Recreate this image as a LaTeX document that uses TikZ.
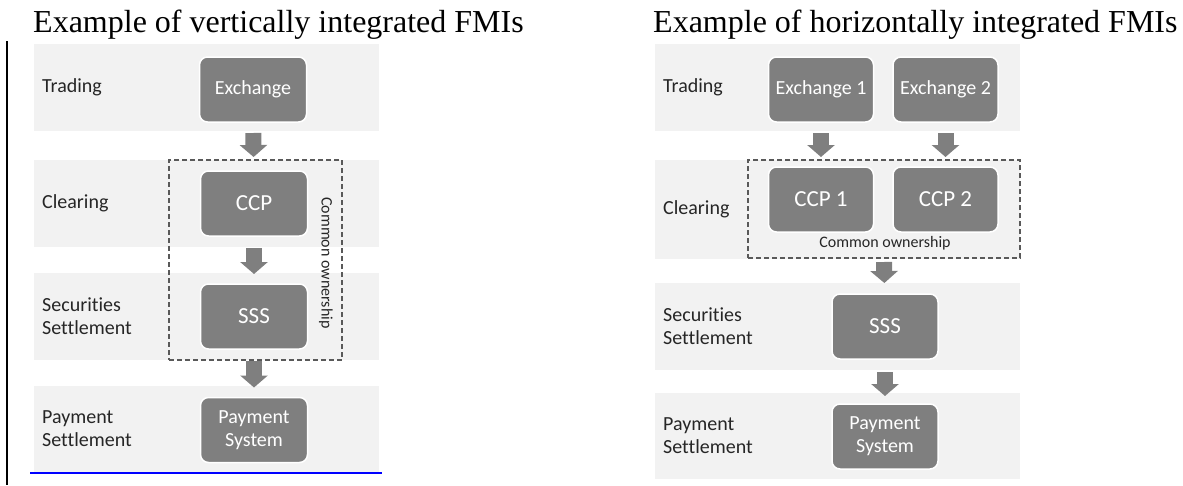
\documentclass[tikz,border=0pt]{standalone}
\usepackage{fontspec}
\setmainfont{Liberation Serif}
\newfontfamily\calibri[Ligatures=NoCommon]{Carlito}
\usetikzlibrary{positioning,arrows.meta}

\definecolor{bandgray}{HTML}{F2F2F2}
\definecolor{boxgray}{HTML}{7F7F7F}
\definecolor{dashgray}{HTML}{595959}
\definecolor{labelgray}{HTML}{262626}

\tikzset{
  title/.style={font=\fontsize{32}{36}\selectfont, anchor=base west, inner sep=0pt},
  band/.style={fill=bandgray, minimum width=#1, minimum height=87pt, inner sep=0pt, outer sep=0pt},
  stage/.style={font=\calibri\fontsize{20}{23}\selectfont, text=labelgray, align=left, inner sep=0pt},
  fmi/.style={rounded corners=8pt, fill=boxgray, draw=white, line width=1.5pt, text=white,
    font=\calibri\fontsize{20}{23}\selectfont, align=center, minimum width=107pt,
    minimum height=65pt, inner sep=0pt, outer sep=0pt},
  bigtext/.style={font=\calibri\fontsize{23}{26}\selectfont},
  owner/.style={draw=dashgray, line width=1.5pt, dash pattern=on 5pt off 3pt, inner sep=0pt, outer sep=0pt},
  ownlabel/.style={font=\calibri\fontsize{16}{18}\selectfont, text=labelgray, inner sep=0pt},
  flow/.style={draw=boxgray, line width=16pt, -{Triangle[width=27pt,length=12pt]}}
}

\begin{document}
\begin{tikzpicture}[x=1pt, y=-1pt]
  \useasboundingbox (0,0) rectangle (1183,485);

  % vertical integration
  \node[title] (vtitle) at (33,32) {Example of vertically integrated FMIs};
  \node[band=345pt] (vtrade) at (206.5,87.5) {};
  \node[band=345pt] (vclear) at (206.5,203.5) {};
  \node[band=345pt] (vsec) at (206.5,316.5) {};
  \node[band=345pt, minimum height=86pt] (vpay) at (206.5,429) {};

  \node[stage, right=8pt of vtrade.west] {Trading};
  \node[stage, right=8pt of vclear.west] {Clearing};
  \node[stage, right=8pt of vsec.west] {Securities\\Settlement};
  \node[stage, right=8pt of vpay.west] {Payment\\Settlement};

  \node[owner, minimum width=173pt, minimum height=200pt] (vown) at (255.5,260) {};
  \node[ownlabel, rotate=-90] (vownl) at (326,263) {Common ownership};

  \node[fmi] (exch) at (253,89.5) {Exchange};
  \node[fmi, bigtext] (ccp) at (254,203.5) {CCP};
  \node[fmi, bigtext] (sss) at (254,316.5) {SSS};
  \node[fmi] (ps) at (254,430) {Payment\\System};

  \draw[flow, shorten <=11pt, shorten >=14pt] (exch) -- (ccp);
  \draw[flow, shorten <=12pt, shorten >=10pt] (ccp) -- (sss);
  \draw[flow, shorten <=12pt, shorten >=10pt] (sss) -- (ps);

  \coordinate (lineA) at (7,41);
  \coordinate (lineB) at (7,485);
  \draw[line width=2pt] (lineA) -- (lineB);
  \coordinate (blueA) at (30,473);
  \coordinate (blueB) at (382,473);
  \draw[blue, line width=2.5pt] (blueA) -- (blueB);

  % horizontal integration
  \node[title] (htitle) at (653,32) {Example of horizontally integrated FMIs};
  \node[band=365pt] (htrade) at (837.5,87) {};
  \node[band=365pt, minimum height=99pt] (hclear) at (837.5,209.5) {};
  \node[band=365pt] (hsec) at (837.5,326.5) {};
  \node[band=365pt, minimum height=86pt] (hpay) at (837.5,436) {};

  \node[stage, right=8pt of htrade.west] {Trading};
  \node[stage, right=8pt of hclear.west] {Clearing};
  \node[stage, right=8pt of hsec.west] {Securities\\Settlement};
  \node[stage, right=8pt of hpay.west] {Payment\\Settlement};

  \node[owner, minimum width=272pt, minimum height=98pt] (hown) at (884,209) {};
  \node[ownlabel] (hownl) at (885,243) {Common ownership};

  \node[fmi, minimum width=105pt] (exch1) at (821,89.5) {Exchange 1};
  \node[fmi, minimum width=105pt] (exch2) at (945.5,89.5) {Exchange 2};
  \node[fmi, bigtext, minimum width=105pt] (ccp1) at (821,199.5) {CCP 1};
  \node[fmi, bigtext, minimum width=105pt] (ccp2) at (945.5,199.5) {CCP 2};
  \node[fmi, bigtext, minimum width=106pt] (hsss) at (885,326.5) {SSS};
  \node[fmi, minimum width=106pt] (hps) at (885,436.5) {Payment\\System};

  \draw[flow, shorten <=11pt, shorten >=10pt] (exch1) -- (ccp1);
  \draw[flow, shorten <=11pt, shorten >=10pt] (exch2) -- (ccp2);
  \draw[flow, shorten <=4pt, shorten >=11pt] (hown.south) -- (hsss);
  \draw[flow, shorten <=13pt, shorten >=8pt] (hsss) -- (hps);
\end{tikzpicture}
\end{document}
